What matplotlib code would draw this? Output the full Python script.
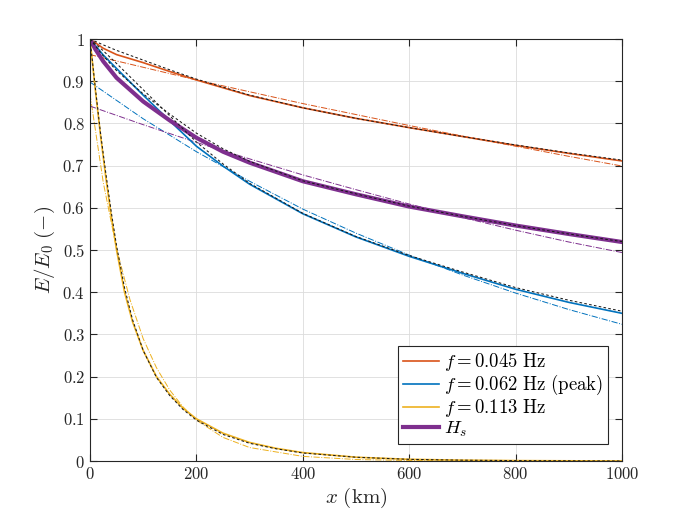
import matplotlib
matplotlib.use('Agg')
import matplotlib.pyplot as plt

plt.rcParams['mathtext.fontset'] = 'cm'
plt.rcParams['font.family'] = 'serif'
plt.rcParams['font.serif'] = ['DejaVu Serif']

# distances (km) and normalised energy
x_045 = [0, 25, 50, 100, 150, 200, 300, 400, 500, 600, 700, 800, 900, 1000]
e_045 = [1.0, 0.978, 0.963, 0.944, 0.923, 0.903, 0.866, 0.837, 0.812, 0.790, 0.769, 0.748, 0.729, 0.711]
fit_045 = [1.0, 0.986, 0.973, 0.950, 0.927, 0.905, 0.867, 0.837, 0.812, 0.790, 0.769, 0.749, 0.730, 0.713]
x_lin = [0, 100, 200, 300, 400, 500, 600, 700, 800, 900, 1000]
lin_045 = [0.963, 0.933, 0.903, 0.875, 0.847, 0.821, 0.795, 0.770, 0.746, 0.722, 0.699]

x_062 = [0, 25, 50, 100, 150, 200, 250, 300, 400, 500, 600, 700, 800, 900, 1000]
e_062 = [1.0, 0.962, 0.930, 0.867, 0.806, 0.746, 0.699, 0.656, 0.586, 0.531, 0.485, 0.445, 0.407, 0.376, 0.350]
fit_062 = [1.0, 0.972, 0.942, 0.880, 0.818, 0.756, 0.704, 0.658, 0.587, 0.532, 0.487, 0.448, 0.411, 0.381, 0.355]
lin_062 = [0.898, 0.811, 0.733, 0.663, 0.597, 0.540, 0.488, 0.441, 0.398, 0.359, 0.324]

x_113 = [0, 10, 20, 30, 40, 50, 65, 80, 100, 125, 150, 175, 200, 250, 300, 350, 400, 500, 600, 700, 800, 1000]
e_113 = [1.0, 0.88, 0.77, 0.67, 0.58, 0.50, 0.40, 0.33, 0.262, 0.200, 0.158, 0.125, 0.100, 0.066, 0.044, 0.030, 0.020, 0.009, 0.004, 0.002, 0.001, 0.0]
fit_113 = [1.0, 0.885, 0.775, 0.68, 0.59, 0.51, 0.41, 0.335, 0.262, 0.198, 0.155, 0.122, 0.097, 0.063, 0.042, 0.029, 0.019, 0.009, 0.004, 0.002, 0.001, 0.0]
x_113l = [0, 25, 50, 75, 100, 125, 150, 175, 200, 250, 300, 400, 500, 600, 800, 1000]
lin_113 = [0.87, 0.66, 0.503, 0.383, 0.290, 0.221, 0.168, 0.128, 0.097, 0.056, 0.032, 0.011, 0.0036, 0.0012, 0.0001, 0.0]

x_hs = [0, 10, 25, 50, 100, 150, 200, 250, 300, 400, 500, 600, 700, 800, 900, 1000]
e_hs = [1.0, 0.976, 0.947, 0.908, 0.852, 0.807, 0.766, 0.733, 0.707, 0.663, 0.632, 0.603, 0.580, 0.558, 0.538, 0.519]
fit_hs = [1.0, 0.984, 0.960, 0.925, 0.870, 0.822, 0.777, 0.740, 0.710, 0.664, 0.633, 0.604, 0.580, 0.558, 0.538, 0.520]
lin_hs = [0.841, 0.797, 0.755, 0.716, 0.678, 0.643, 0.609, 0.577, 0.547, 0.519, 0.494]

labels = [r'$f = 0.045\ \mathrm{Hz}$', r'$f = 0.062\ \mathrm{Hz\ (peak)}$',
          r'$f = 0.113\ \mathrm{Hz}$', r'$H_s$']
xticks = [0, 200, 400, 600, 800, 1000]
yticks = [0, 0.1, 0.2, 0.3, 0.4, 0.5, 0.6, 0.7, 0.8, 0.9, 1]

orange = '#D95319'
blue = '#0072BD'
yellow = '#EDB120'
purple = '#7E2F8E'

fig = plt.figure(figsize=(6.9, 5.18), dpi=100)
ax = fig.add_axes([0.1304, 0.110, 0.7710, 0.8147])

# thin dash-dot fits
ax.plot(x_lin, lin_045, '-.', color=orange, lw=0.7)
ax.plot(x_lin, lin_062, '-.', color=blue, lw=0.7)
ax.plot(x_113l, lin_113, '-.', color=yellow, lw=0.7)
ax.plot(x_lin, lin_hs, '-.', color=purple, lw=0.7)

# data curves
ax.plot(x_045, e_045, '-', color=orange, lw=1.2, label=labels[0])
ax.plot(x_062, e_062, '-', color=blue, lw=1.2, label=labels[1])
ax.plot(x_113, e_113, '-', color=yellow, lw=1.2, label=labels[2])
ax.plot(x_hs, e_hs, '-', color=purple, lw=3.0, label=labels[3])

# black dashed fits on top
for xs, ys in [(x_045, fit_045), (x_062, fit_062), (x_113, fit_113), (x_hs, fit_hs)]:
    ax.plot(xs, ys, '--', color='#1a1a1a', lw=0.75, dashes=(2.5, 2.2))

ax.set_xlim(0, 1000)
ax.set_ylim(0, 1)
ax.set_xticks(xticks, labels=[f'${t}$' for t in xticks])
ax.set_yticks(yticks, labels=[f'${t:g}$' for t in yticks])
ax.tick_params(direction='in', length=5, width=0.8, colors='#262626', labelsize=12,
               top=True, right=True, labelcolor='#262626')
for s in ax.spines.values():
    s.set_color('#262626')
    s.set_linewidth(0.8)
ax.grid(True, color='#dcdcdc', lw=0.6)
ax.set_axisbelow(True)

ax.set_xlabel(r'$x\ \mathrm{(km)}$', fontsize=15, color='#262626', labelpad=2)
ax.set_ylabel(r'$E/E_0\ \mathrm{(-)}$', fontsize=15, color='#262626', labelpad=4)

leg = ax.legend(loc='lower right', bbox_to_anchor=(0.974, 0.040), borderaxespad=0,
                fontsize=13.5, handlelength=1.9, handletextpad=0.25, labelspacing=0.0,
                fancybox=False, framealpha=1, edgecolor='#262626', borderpad=0.3)
leg.get_frame().set_linewidth(0.8)

fig.savefig('out.png', dpi=100, facecolor='white')
